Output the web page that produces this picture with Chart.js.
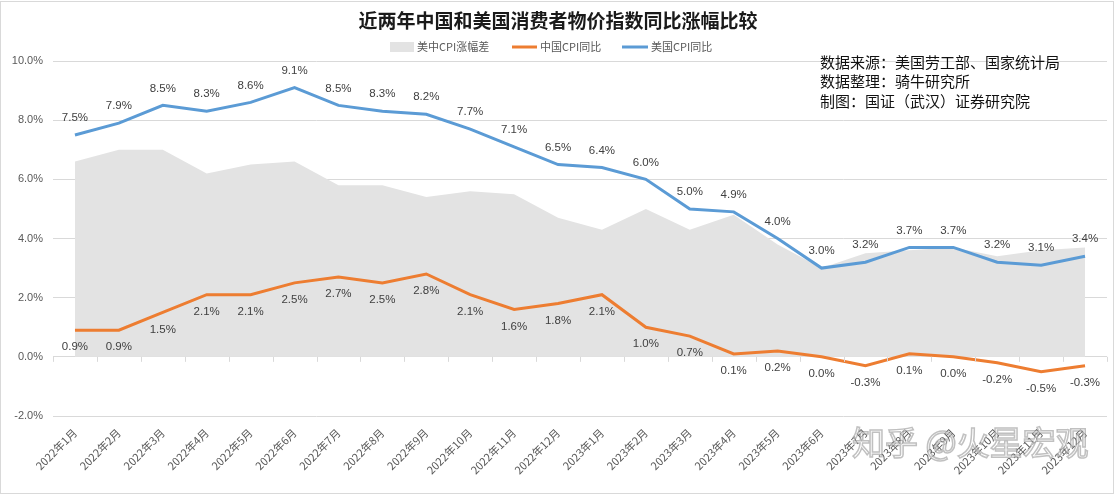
<!DOCTYPE html>
<html>
<head>
<meta charset="utf-8">
<script src="https://cdn.jsdelivr.net/npm/chart.js@4.4.1/dist/chart.umd.min.js"></script>
<style>
  html,body{margin:0;padding:0;background:#fff;}
  #wrap{width:1117px;height:496px;position:relative;}
</style>
</head>
<body>
<div id="wrap"><canvas id="c" width="1117" height="496"></canvas></div>
<script>
const titleText = '近两年中国和美国消费者物价指数同比涨幅比较';
const categories = ['2022年1月','2022年2月','2022年3月','2022年4月','2022年5月','2022年6月','2022年7月','2022年8月','2022年9月','2022年10月','2022年11月','2022年12月','2023年1月','2023年2月','2023年3月','2023年4月','2023年5月','2023年6月','2023年7月','2023年8月','2023年9月','2023年10月','2023年11月','2023年12月'];
const usCPI = [7.5,7.9,8.5,8.3,8.6,9.1,8.5,8.3,8.2,7.7,7.1,6.5,6.4,6.0,5.0,4.9,4.0,3.0,3.2,3.7,3.7,3.2,3.1,3.4];
const cnCPI = [0.9,0.9,1.5,2.1,2.1,2.5,2.7,2.5,2.8,2.1,1.6,1.8,2.1,1.0,0.7,0.1,0.2,0.0,-0.3,0.1,0.0,-0.2,-0.5,-0.3];
const diffCPI = [6.6,7.0,7.0,6.2,6.5,6.6,5.8,5.8,5.4,5.6,5.5,4.7,4.3,5.0,4.3,4.8,3.8,3.0,3.5,3.6,3.7,3.4,3.6,3.7];
const seriesNames = ['美中CPI涨幅差','中国CPI同比','美国CPI同比'];
const notes = ['数据来源：美国劳工部、国家统计局','数据整理：骑牛研究所','制图：国证（武汉）证券研究院'];
const watermark = '知乎 @火星宏观';
const yMin = -2, yMax = 10, yStep = 2;

const COLORS = { area:'#e3e3e3', cn:'#ED7D31', us:'#5B9BD5', text:'#595959', label:'#404040', grid:'#d9d9d9' };
const LABEL_FONT = '11.5px "Liberation Sans", Arial, sans-serif';

const decor = {
  id:'decor',
  beforeDraw(chart){
    const ctx = chart.ctx;
    ctx.save();
    ctx.fillStyle = '#fff';
    ctx.fillRect(0,0,chart.width,chart.height);
    ctx.restore();
  },
  afterDraw(chart){
    const ctx = chart.ctx;
    const xs = chart.scales.x, ys = chart.scales.y;
    ctx.save();
    const y0 = ys.getPixelForValue(0);
    ctx.strokeStyle = COLORS.grid; ctx.lineWidth = 1;
    const step = (xs.right - xs.left)/categories.length;
    for(let i=0;i<=categories.length;i++){
      const x = Math.round(xs.left + i*step)+0.5;
      ctx.beginPath(); ctx.moveTo(x,y0); ctx.lineTo(x,y0+5); ctx.stroke();
    }
    ctx.font = LABEL_FONT; ctx.fillStyle = COLORS.label; ctx.textAlign='center'; ctx.textBaseline='middle';
    const mUS = chart.getDatasetMeta(2).data, mCN = chart.getDatasetMeta(1).data;
    usCPI.forEach((v,i)=>{ const p=mUS[i]; ctx.fillText(v.toFixed(1)+'%', p.x, p.y-17); });
    cnCPI.forEach((v,i)=>{ const p=mCN[i]; ctx.fillText(v.toFixed(1)+'%', p.x, p.y+17); });
    ctx.font = 'bold 19px "Noto Sans CJK SC", sans-serif'; ctx.fillStyle = '#1a1a1a';
    ctx.fillText(titleText, 558, 21);
    ctx.font = '11px "Noto Sans CJK SC", sans-serif'; ctx.textAlign='left';
    const ly = 47;
    ctx.fillStyle = COLORS.area; ctx.fillRect(390, ly-5, 24, 10);
    ctx.fillStyle = COLORS.text; ctx.fillText(seriesNames[0], 417, ly);
    ctx.strokeStyle = COLORS.cn; ctx.lineWidth = 3; ctx.beginPath(); ctx.moveTo(512,ly); ctx.lineTo(537,ly); ctx.stroke();
    ctx.fillText(seriesNames[1], 540, ly);
    ctx.strokeStyle = COLORS.us; ctx.beginPath(); ctx.moveTo(622,ly); ctx.lineTo(648,ly); ctx.stroke();
    ctx.fillText(seriesNames[2], 651, ly);
    ctx.font = '15px "Noto Sans CJK SC", sans-serif'; ctx.fillStyle = '#111';
    notes.forEach((t,i)=>ctx.fillText(t, 820, 62 + i*19.5));
    ctx.font = '33px "Noto Sans CJK SC", sans-serif';
    ctx.lineWidth = 1.5; ctx.strokeStyle = 'rgba(130,130,130,0.5)'; ctx.fillStyle = 'rgba(255,255,255,0.5)';
    ctx.fillText(watermark, 852, 442); ctx.strokeText(watermark, 852, 442);
    ctx.strokeStyle = '#d9d9d9'; ctx.lineWidth = 1;
    ctx.strokeRect(0.5, 1.5, 1113, 492);
    ctx.restore();
  }
};

new Chart(document.getElementById('c'), {
  type:'line',
  data:{
    labels: categories,
    datasets:[
      { label: seriesNames[0], data: diffCPI, fill:'origin', backgroundColor: COLORS.area, borderWidth:0, pointRadius:0, tension:0, order:3 },
      { label: seriesNames[1], data: cnCPI, borderColor: COLORS.cn, borderWidth:3, pointRadius:0, fill:false, tension:0, order:2 },
      { label: seriesNames[2], data: usCPI, borderColor: COLORS.us, borderWidth:3, pointRadius:0, fill:false, tension:0, order:1 }
    ]
  },
  options:{
    responsive:false, animation:false, devicePixelRatio:1,
    layout:{ padding:{ top:61, right:10, left:0, bottom:0 } },
    plugins:{ legend:{display:false}, title:{display:false}, tooltip:{enabled:false} },
    scales:{
      x:{
        offset:true,
        grid:{ display:false },
        border:{ display:false },
        ticks:{ color: COLORS.text, font:{ family:'"Noto Sans CJK SC", sans-serif', size:11 }, maxRotation:45, minRotation:45, autoSkip:false, padding:2 },
        afterFit(s){ s.height = 80; }
      },
      y:{
        min:yMin, max:yMax,
        grid:{ color: COLORS.grid, drawTicks:false },
        border:{ display:false },
        ticks:{ stepSize:yStep, color: COLORS.text, font:{ family:'"Liberation Sans", Arial, sans-serif', size:11 }, padding:10, callback:v=>v.toFixed(1)+'%' },
        afterFit(s){ s.width = 53; }
      }
    }
  },
  plugins:[decor]
});
</script>
</body>
</html>
